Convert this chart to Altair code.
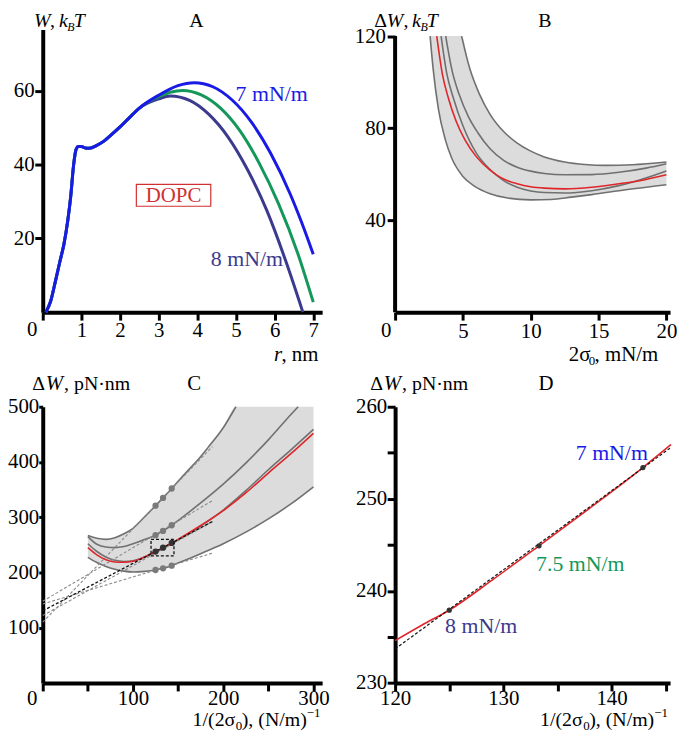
import altair as alt
import pandas as pd

FONT = "Liberation Serif, Times New Roman, Times, serif"
BLUE, GREEN, DARK = "#1a1ae6", "#13985a", "#3c3a8e"
RED, GRAY, BAND, BLACK = "#e0262a", "#707070", "#dcdcdc", "#000000"
DASHGRAY, DOT = "#8a8a8a", "#333333"

# ---------------- Panel A : W(r), kBT ----------------
A_R_RISE = [0.08, 0.2, 0.33, 0.45, 0.55, 0.65, 0.72, 0.8, 0.86, 0.92, 1.0, 1.1, 1.2, 1.4, 1.6, 1.8, 2.0, 2.25, 2.5]
A_W_RISE = [0, 2.8, 8.5, 14, 18.5, 25, 31, 40, 44, 44.9, 44.9, 44.5, 44.4, 45.2, 46.5, 48.3, 50.2, 52.8, 55.3]
A_R_7 = [3.0, 3.5, 3.92, 4.4, 4.9, 5.4, 5.9, 6.4, 6.7, 7.0]
A_W_7 = [58.8, 61.4, 62.2, 61.1, 57.5, 51.5, 43.0, 32.1, 24.3, 15.7]
A_R_75 = [3.0, 3.3, 3.62, 4.1, 4.6, 5.1, 5.6, 6.1, 6.6, 7.0]
A_W_75 = [58.4, 59.6, 60.1, 58.9, 55.3, 49.2, 40.4, 29.4, 15.9, 2.7]
A_R_8 = [3.0, 3.3, 3.8, 4.3, 4.8, 5.3, 5.8, 6.3, 6.73]
A_W_8 = [57.8, 58.6, 57.4, 53.6, 47.4, 38.6, 27.5, 13.5, 0]

# ---------------- Panel B : dW vs 2 sigma0, kBT ----------------
B_V_T = [4.9, 5.5, 6.2, 7.0, 8.0, 9.0, 10.0, 11.0, 12.5, 14.0, 15.5, 17.5, 20.0]
B_W_T = [120, 106, 95, 86, 78.5, 73.5, 70, 67.5, 65.3, 64.2, 63.8, 64.1, 65.3]
B_V_S = [3.73, 4.2, 4.7, 5.4, 6.1, 7.0, 8.0, 9.0, 10.0, 11.0, 12.5, 14.5, 16.5, 18.5, 20.0]
B_W_S = [120, 105, 95, 85, 78, 71, 66, 63, 61.3, 60.3, 59.7, 59.8, 60.8, 62.6, 64.5]
B_V_R = [3.07, 3.5, 3.93, 4.5, 5.14, 6.0, 7.0, 7.5, 8.0, 9.0, 10.0, 11.0, 12.5, 14.5, 16.5, 18.5, 20.0]
B_W_R = [120, 103, 93, 83, 75, 67.5, 61.7, 59.6, 57.9, 55.8, 54.5, 53.9, 53.6, 54.3, 55.8, 57.7, 59.7]
B_V_F = [3.39, 3.8, 4.3, 5.0, 6.0, 7.0, 8.0, 9.0, 10.0, 11.0, 12.5, 14.5, 16.5, 18.2, 20.0]
B_W_F = [120, 104, 93, 81, 69, 62, 57.2, 54.3, 52.7, 52, 51.8, 52.8, 55, 57.8, 61.4]
B_V_BM = [2.58, 2.8, 3.2, 3.7, 4.17, 5.0, 5.87, 7.0, 8.3, 10.0, 11.5, 13.0, 14.5, 17.0, 20.0]
B_W_BM = [120, 106, 88, 75, 67, 59, 54.7, 51.5, 49.6, 48.8, 49, 50, 51.1, 53.2, 55.4]
B_BAND_V = [2.58, 2.8, 3.2, 3.7, 4.17, 4.9, 5.5, 6.2, 7.0, 8.0, 9.0, 10.0, 11.0, 12.5, 14.0, 15.5, 17.5, 20.0]
B_BAND_LO = [120, 106, 88, 75, 67, 59.8, 56.5, 53.7, 51.5, 49.9, 49.2, 48.8, 48.9, 49.6, 50.7, 51.9, 53.6, 55.4]
B_BAND_HI = [120, 120, 120, 120, 120, 120, 106, 95, 86, 78.5, 73.5, 70, 67.5, 65.3, 64.2, 63.8, 64.1, 65.3]

# ---------------- Panel C : dW vs 1/(2 sigma0), pN nm ----------------
C_U_T = [50, 60, 70, 80, 90, 100, 110, 125, 133.3, 142.9, 150, 160, 172, 183, 200, 214]
C_W_T = [267, 262, 260, 263, 270, 280, 296, 321, 335, 352, 365, 383, 404, 426, 462, 500]
C_U_S = [50, 60, 70, 80, 90, 100, 110, 125, 133.3, 142.9, 150, 175, 200, 225, 250, 275, 283]
C_W_S = [265, 251, 246, 245, 247, 252, 258, 267.5, 275.3, 285.5, 294, 326, 360, 398, 440, 486, 500]
C_U = [50, 60, 70, 80, 90, 100, 110, 125, 133.3, 142.9, 150, 175, 200, 225, 250, 275, 300]
C_W_G4 = [252, 238, 228, 222, 220, 221, 226, 236.5, 243.5, 252, 259, 284, 313, 348, 386, 422, 459]
C_W_R = [245, 232, 223, 219, 218.5, 220.5, 226, 238, 245, 253.5, 260, 285, 312, 344, 380, 415, 452]
C_W_BOT = [227.5, 218, 211, 206, 202.5, 201, 201.5, 204.5, 207.5, 212.4, 217, 234, 252, 273, 297, 324, 355]
C_BAND_U = [50, 60, 70, 80, 90, 100, 110, 125, 133.3, 142.9, 150, 160, 172, 183, 200, 214, 225, 250, 275, 300]
C_BAND_LO = [227.5, 218, 211, 206, 202.5, 201, 201.5, 204.5, 207.5, 212.4, 217, 223.5, 232, 239.5, 252, 263.5, 273, 297, 324, 355]
C_BAND_HI = [267, 262, 260, 263, 270, 280, 296, 321, 335, 352, 365, 383, 404, 426, 462, 500, 500, 500, 500, 500]
DOT_U = [125, 133.3, 142.9]
C_DOT_T = [321, 335, 352]
C_DOT_S = [267.5, 275.3, 285.5]
C_DOT_B = [204.5, 207.5, 212.4]
DOT_R = [237.9, 244.9, 253.4]
C_TAN_U = [0, 188]
C_TAN_T = [110, 428]
C_TAN_S = [148, 330]
C_TAN_G4 = [122, 292]
C_TAN_B = [143, 235]
C_TAN_R = [130.5, 292.2]
C_BOX = {"x": [120], "x2": [145.4], "y": [230], "y2": [260]}

# ---------------- Panel D : zoom ----------------
D_U = [120, 122.5, 125, 129, 133.3, 138, 142.9, 145.5]
D_W = [234.6, 236.3, 237.9, 241.2, 244.9, 249, 253.4, 255.9]
D_TAN_U = [120, 145.4]
D_TAN_W = [233.7, 255.5]

ONE = pd.DataFrame({"k": [0]})


def axis(values, tick, pad, expr=None, domain=True, baseline=None):
    kw = dict(values=values, title=None, grid=False, tickSize=tick, tickWidth=3, tickColor=BLACK,
              domainWidth=4, domainColor=BLACK, labelFont=FONT, labelFontSize=21, labelColor=BLACK,
              labelPadding=pad, labelFlush=False, labelOverlap=False, labelBound=False, domain=domain)
    if expr:
        kw["labelExpr"] = expr
    if baseline:
        kw["labelBaseline"] = baseline
    return alt.Axis(**kw)


def enc(dom, ax, field="x"):
    return dict(field=field, type="quantitative", scale=alt.Scale(domain=dom, nice=False, zero=False), axis=ax)


def line(xs, ys, X, Y, color, width, dash=None):
    kw = dict(color=color, strokeWidth=width, interpolate="monotone")
    if dash:
        kw["strokeDash"] = dash
    return alt.Chart(pd.DataFrame({"x": xs, "y": ys})).mark_line(**kw).encode(x=X, y=Y)


def dots(xs, ys, X, Y, color, size):
    return alt.Chart(pd.DataFrame({"x": xs, "y": ys})).mark_circle(color=color, size=size, opacity=1).encode(x=X, y=Y)


def band(xs, lo, hi, X, Y):
    return alt.Chart(pd.DataFrame({"x": xs, "y": lo, "y2": hi})).mark_area(
        color=BAND, opacity=1, interpolate="monotone").encode(x=X, y=Y, y2=alt.Y2("y2:Q"))


def text(s, x, y, size=21, color=BLACK, italic=False, align="left"):
    return alt.Chart(ONE).mark_text(text=s, font=FONT, fontSize=size, color=color,
                                    fontStyle="italic" if italic else "normal",
                                    align=align, baseline="alphabetic").encode(x=alt.value(x), y=alt.value(y))


def pieces(x0, y0, parts, size=21):
    out = []
    for p in parts:
        s, dx = p[0], p[1]
        dy = p[2] if len(p) > 2 else 0
        sz = p[3] if len(p) > 3 else size
        it = p[4] if len(p) > 4 else False
        out.append(text(s, x0 + dx, y0 + dy, size=sz, italic=it))
    return out


TOP_Y = -3  # baseline of the titles above panels A and B
TS = 20     # font size of the titles above panels A and B

# ---------- A ----------
XA = alt.X(**enc([0, 7.23], axis(list(range(8)), 8, 16.3, "datum.value == 0 ? '' : datum.label", baseline="alphabetic")))
YA = alt.Y(**enc([0, 76.6], axis([20, 40, 60], 8, 0.7), field="y"))
layersA = []
for rr, ww, col in [(A_R_8, A_W_8, DARK), (A_R_75, A_W_75, GREEN), (A_R_7, A_W_7, BLUE)]:
    layersA.append(line(A_R_RISE + rr, A_W_RISE + ww, XA, YA, col, 3))
layersA += [
    alt.Chart(ONE).mark_rect(fillOpacity=0, stroke="#d03030", strokeWidth=1.2).encode(
        x=alt.value(94.3), x2=alt.value(169.3), y=alt.value(156), y2=alt.value(178)),
    text("DOPC", 131.8, 174, 21, "#d03030", align="center"),
    text("7 mN/m", 194.3, 72, 22, BLUE),
    text("8 mN/m", 169.3, 238, 22, DARK),
    text("A", 154.8, TOP_Y, TS, align="center"),
    text("0", -10.7, 309, 21, align="center"),
]
layersA += pieces(-8.7, TOP_Y, [("W", 0, 0, TS, True), (",", 16), ("k", 25, 0, TS, True),
                                ("B", 33.5, 4, 12, True), ("T", 40, 0, TS, True)], size=TS)
layersA += pieces(233, 334, [("r", 0, 0, 21, True), (", nm", 7.5)])
A = alt.layer(*layersA).properties(width=281.5, height=284.7)

# ---------- B ----------
XB = alt.X(**enc([0, 20.27], axis([0, 5, 10, 15, 20], 8, 17.3, "datum.value == 0 ? '' : datum.label", baseline="alphabetic")))
YB = alt.Y(**enc([0, 122.85], axis([40, 80, 120], 8, 1.7, domain=False), field="y"))
layersB = [band(B_BAND_V, B_BAND_LO, B_BAND_HI, XB, YB)]
for vv, ww in [(B_V_T, B_W_T), (B_V_S, B_W_S), (B_V_F, B_W_F), (B_V_BM, B_W_BM)]:
    layersB.append(line(vv, ww, XB, YB, GRAY, 1.6))
layersB.append(line(B_V_R, B_W_R, XB, YB, RED, 1.6))
layersB.append(alt.Chart(pd.DataFrame({"x": [0], "y": [0], "y2": [120]})).mark_rule(
    color=BLACK, strokeWidth=4).encode(x=XB, y=YB, y2=alt.Y2("y2:Q")))
layersB += [text("B", 151, TOP_Y, TS, align="center"), text("0", -9, 310, 21, align="center")]
layersB += pieces(-21, TOP_Y, [("Δ", 0), ("W", 12.5, 0, TS, True), (",", 29.5), ("k", 38, 0, TS, True),
                               ("B", 46.5, 4, 12, True), ("T", 53, 0, TS, True)], size=TS)
layersB += pieces(175, 334, [("2σ", 0), ("0", 20, 4, 13), (", mN/m", 26)])
B = alt.layer(*layersB).properties(width=277, height=284.7)

# ---------- C ----------
XC = alt.X(**enc([0, 309.6], axis([0, 50, 100, 150, 200, 250, 300], 8, 13.7,
                                   "datum.value % 100 == 0 && datum.value > 0 ? datum.label : ''", baseline="alphabetic")))
YC = alt.Y(**enc([0, 500], axis([100, 200, 300, 400, 500], 4, 0), field="y"))
layersC = [band(C_BAND_U, C_BAND_LO, C_BAND_HI, XC, YC),
           line(C_U_T, C_W_T, XC, YC, GRAY, 1.6),
           line(C_U_S, C_W_S, XC, YC, GRAY, 1.6),
           line(C_U, C_W_G4, XC, YC, GRAY, 1.6),
           line(C_U, C_W_BOT, XC, YC, GRAY, 1.6),
           line(C_U, C_W_R, XC, YC, RED, 1.6)]
for tw in [C_TAN_T, C_TAN_S, C_TAN_G4, C_TAN_B]:
    layersC.append(line(C_TAN_U, tw, XC, YC, DASHGRAY, 1.1, [3, 2]))
layersC.append(line(C_TAN_U, C_TAN_R, XC, YC, "#111111", 1.3, [3, 2]))
for dw in [C_DOT_T, C_DOT_S, C_DOT_B]:
    layersC.append(dots(DOT_U, dw, XC, YC, "#7a7a7a", 40))
layersC.append(dots(DOT_U, DOT_R, XC, YC, DOT, 40))
layersC.append(alt.Chart(pd.DataFrame(C_BOX)).mark_rect(
    fillOpacity=0, stroke="#111111", strokeDash=[3, 2], strokeWidth=1.3).encode(
    x=XC, x2=alt.X2("x2:Q"), y=YC, y2=alt.Y2("y2:Q")))
layersC += [text("C", 152.5, -16.7, 21, align="center"), text("0", -10.5, 300, 21, align="center")]
layersC += pieces(-10.5, -16.7, [("Δ", 0), ("W", 13.5, 0, 21, True), (", pN·nm", 32)], size=20)
layersC += pieces(151, 322, [("1/(2σ", 0), ("0", 43.5, 4, 13), ("), (N/m)", 49.5), ("−1", 115, -9, 13)], size=20)
C = alt.layer(*layersC).properties(width=281.5, height=278.3)

# ---------- D ----------
XD = alt.X(**enc([120, 145.41], axis([120, 125, 130, 135, 140, 145], 8, 13.7,
                                     "datum.value % 10 == 0 ? datum.label : ''", baseline="alphabetic")))
YD = alt.Y(**enc([230, 260], axis([230, 235, 240, 245, 250, 255, 260], 8, 0.4,
                                  "datum.value % 10 == 0 ? datum.label : ''"), field="y"))
layersD = [line(D_U, D_W, XD, YD, RED, 1.6),
           line(D_TAN_U, D_TAN_W, XD, YD, "#111111", 1.2, [3, 2]),
           dots(DOT_U, DOT_R, XD, YD, DOT, 28),
           text("7 mN/m", 182, 53.3, 22, BLUE),
           text("7.5 mN/m", 142, 165, 22, GREEN),
           text("8 mN/m", 50.3, 228.3, 22, DARK),
           text("D", 152, -16.7, 21, align="center")]
layersD += pieces(-25, -16.7, [("Δ", 0), ("W", 13.5, 0, 21, True), (", pN·nm", 32)], size=20)
layersD += pieces(146, 322, [("1/(2σ", 0), ("0", 43.5, 4, 13), ("), (N/m)", 49.5), ("−1", 115, -9, 13)], size=20)
D = alt.layer(*layersD).properties(width=277, height=278.3)

chart = alt.concat(A, B, C, D, columns=2, spacing={"row": 95, "column": 73}, bounds="flush").properties(
    padding={"left": -1, "top": 0, "right": 0, "bottom": 0}
).configure_view(stroke=None)

chart.save("out.html", embed_options={"renderer": "svg", "actions": False})
